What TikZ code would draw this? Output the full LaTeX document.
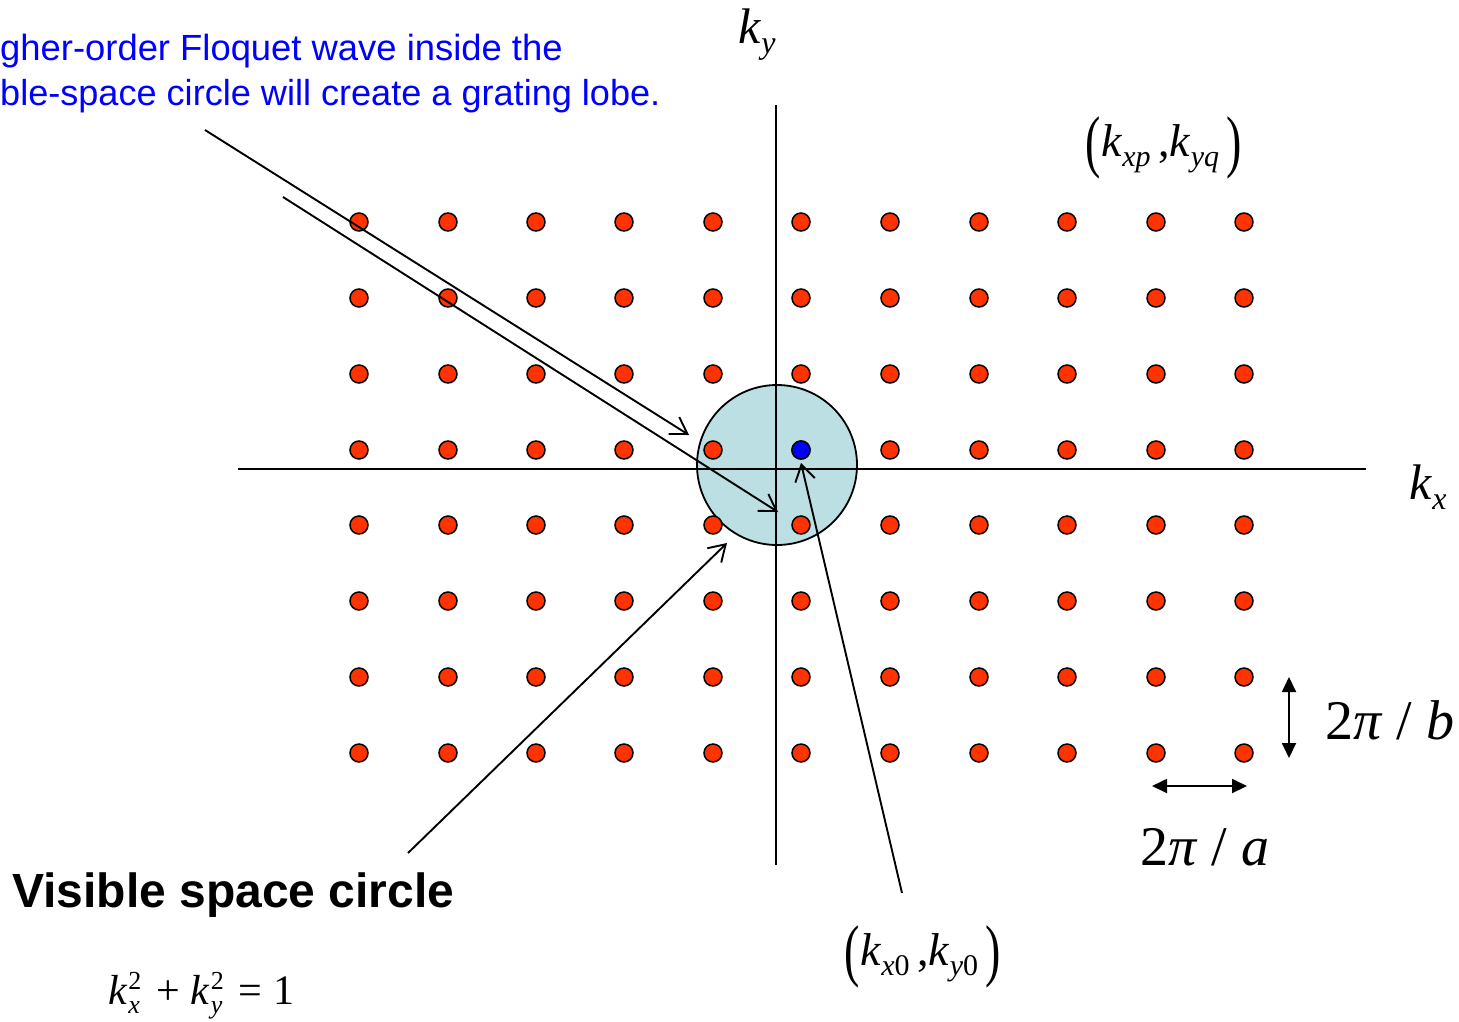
\documentclass[tikz,border=0pt]{standalone}
\usepackage{graphicx}
\usepackage{fontspec}
\setmainfont{Liberation Serif}
\setsansfont{Liberation Sans}
\usetikzlibrary{arrows.meta}
\definecolor{dotred}{HTML}{FF3300}
\definecolor{circfill}{HTML}{BBDFE3}
\tikzset{
  dotnode/.style={circle, draw=black, line width=1.5pt, fill=dotred, minimum size=18pt, inner sep=0pt},
  axisline/.style={draw=black, line width=1.8pt},
  pointer/.style={draw=black, line width=1.9pt, -{Straight Barb[length=16pt,width=20pt,line width=1.9pt]}},
  dimarrow/.style={draw=black, line width=1.8pt, {Triangle[length=15pt,width=14pt]}-{Triangle[length=15pt,width=14pt]}},
  lbl/.style={inner sep=0pt},
}
\newcommand{\fsz}[1]{\fontsize{#1}{#1}\selectfont}
% k with subscript (size of subscript, drop, text)
\newcommand{\ksub}[3]{\textit{k}\raisebox{-#2}{\fsz{#1}\textit{#3}}}
\newcommand{\tallparen}[1]{\raisebox{-0.17em}{\scalebox{1}[1.5]{#1}}}
\newcommand{\ksq}[1]{\textit{k}\kern1pt\rlap{\raisebox{15pt}{\fsz{26}2}}\raisebox{-9pt}{\fsz{26}\textit{#1}}}
\begin{document}
\begin{tikzpicture}[x=1pt,y=-1pt]
\useasboundingbox (0,0) rectangle (1459,1021);
\clip (0,0) rectangle (1459,1021);
% visible space circle
\node[circle, draw=black, line width=1.8pt, fill=circfill, minimum size=160pt, inner sep=0pt] (vc) at (777,465) {};
% axes
\coordinate (xl) at (238,469);
\coordinate (xr) at (1366,469);
\coordinate (yt) at (776,105);
\coordinate (yb) at (776,865);
\draw[axisline] (xl) -- (xr);
\draw[axisline] (yt) -- (yb);
% lattice of Floquet points
\foreach \c/\x in {1/359,2/448,3/536,4/624,5/713,6/801,7/890,8/979,9/1067,10/1156,11/1244}{
  \foreach \r/\y in {1/222,2/298,3/374,4/450,5/525,6/601,7/677,8/753}{
    \node[dotnode] (d\c-\r) at (\x,\y) {};
  }
}
\node[dotnode, fill=blue] (d0) at (801,450) {};
% labels
\node[lbl, font=\fsz{50}] (ky) at (757,35) {\ksub{32}{10pt}{y}};
\node[lbl, font=\fsz{50}] (kx) at (1428,487) {\ksub{32}{10pt}{x}};
\node[lbl, font=\fsz{46}] (kpq) at (1164,148) {\tallparen{(}\ksub{30}{10pt}{xp}\,,\ksub{30}{10pt}{yq}\,\tallparen{)}};
\node[lbl, font=\fsz{46}] (k0) at (923,957) {\tallparen{(}\ksub{30}{10pt}{x}\raisebox{-10pt}{\fsz{30}0}\,,\ksub{30}{10pt}{y}\raisebox{-10pt}{\fsz{30}0}\,\tallparen{)}};
\node[lbl, font=\fsz{56}, anchor=west] (tb) at (1325,720) {2\textit{π} / \textit{b}};
\node[lbl, font=\fsz{56}] (ta) at (1205,847) {2\textit{π} / \textit{a}};
\node[lbl, font=\fsz{42}, anchor=base west] (eq) at (108,1004) {\ksq{x}\hspace{6pt} + \ksq{y}\hspace{6pt} = 1};
\node[lbl, font=\sffamily\bfseries\fsz{48}, anchor=west] (vs) at (12,895) {Visible space circle};
\node[lbl, font=\sffamily\fsz{36.4}, text=blue, anchor=base west] (bt1) at (0,60) {gher-order Floquet wave inside the};
\node[lbl, font=\sffamily\fsz{36.1}, text=blue, anchor=base west] (bt2) at (0,105) {ble-space circle will create a grating lobe.};
% pointers
\coordinate (a1s) at (205,130);
\coordinate (a1e) at (689,435);
\coordinate (a2s) at (283,197);
\coordinate (a2e) at (778,512);
\coordinate (a3s) at (408,853);
\coordinate (a3e) at (727,543);
\coordinate (a4s) at (902,893);
\coordinate (a4e) at (801,463);
\draw[pointer] (a1s) -- (a1e);
\draw[pointer] (a2s) -- (a2e);
\draw[pointer] (a3s) -- (a3e);
\draw[pointer] (a4s) -- (a4e);
% period markers
\coordinate (vb1) at (1289,677);
\coordinate (vb2) at (1289,758);
\coordinate (ha1) at (1152,786);
\coordinate (ha2) at (1247,786);
\draw[dimarrow] (vb1) -- (vb2);
\draw[dimarrow] (ha1) -- (ha2);
\end{tikzpicture}
\end{document}
